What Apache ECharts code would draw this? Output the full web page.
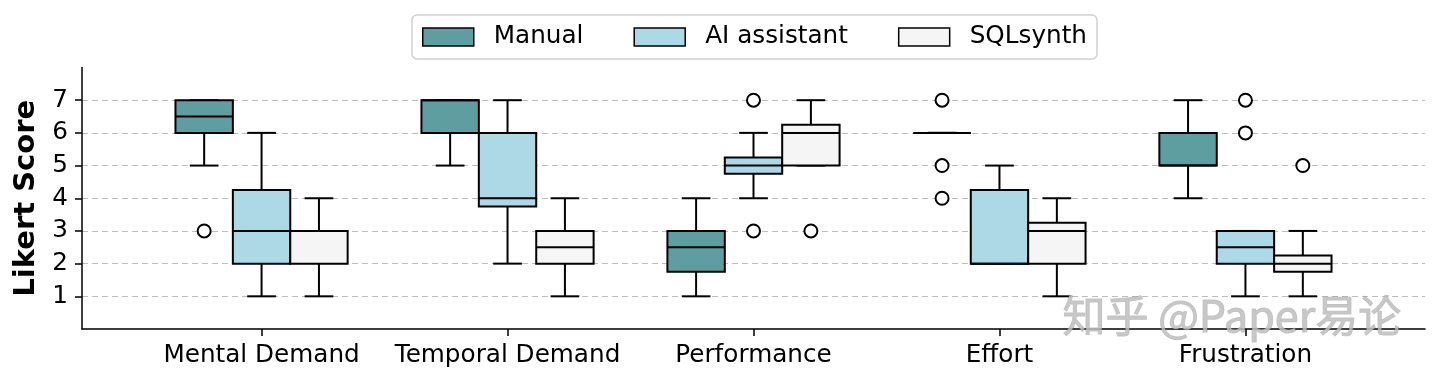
<!DOCTYPE html>
<html>
<head>
<meta charset="utf-8">
<script src="https://cdn.jsdelivr.net/npm/echarts@6/dist/echarts.min.js"></script>
<style>html,body{margin:0;padding:0;background:#fff}#chart{width:1440px;height:383px}</style>
</head>
<body>
<div id="chart"></div>
<script>
// ---- data ----
const categories = ['Mental Demand', 'Temporal Demand', 'Performance', 'Effort', 'Frustration'];
const seriesNames = ['Manual', 'AI assistant', 'SQLsynth'];
const yTicks = [1, 2, 3, 4, 5, 6, 7];
// [min, Q1, median, Q3, max] per category
const manualStats = [[5, 6, 6.5, 7, 7], [5, 6, 7, 7, 7], [1, 1.75, 2.5, 3, 4], [6, 6, 6, 6, 6], [4, 5, 5, 6, 7]];
const manualOutliers = [[3], [], [], [7, 5, 4], []];
const aiStats = [[1, 2, 3, 4.25, 6], [2, 3.75, 4, 6, 7], [4, 4.75, 5, 5.25, 6], [2, 2, 2, 4.25, 5], [1, 2, 2.5, 3, 3]];
const aiOutliers = [[], [], [7, 3], [], [7, 6]];
const sqlStats = [[1, 2, 3, 3, 4], [1, 2, 2.5, 3, 4], [5, 5, 6, 6.25, 7], [1, 2, 3, 3.25, 4], [1, 1.75, 2, 2.25, 3]];
const sqlOutliers = [[], [], [3], [], [5]];

const colors = ['#5F9EA0', '#ADD8E6', '#F5F5F5'];
const FONT = 'DejaVu Sans';
const BOXW = 0.7 / 3;

function makeRender(k, outliers) {
  return function (params, api) {
    const cat = api.value(0);
    const mn = api.value(1), q1 = api.value(2), med = api.value(3), q3 = api.value(4), mx = api.value(5);
    const x = cat + (k - 1) * BOXW;
    const cx = api.coord([x, 0])[0];
    const hw = api.size([BOXW, 0])[0] / 2;
    const cw = hw / 2;
    const Y = v => api.coord([x, v])[1];
    const ls = { stroke: '#000', lineWidth: 2 };
    const ch = [];
    ch.push({ type: 'line', shape: { x1: cx, y1: Y(q3), x2: cx, y2: Y(mx) }, style: ls });
    ch.push({ type: 'line', shape: { x1: cx - cw, y1: Y(mx), x2: cx + cw, y2: Y(mx) }, style: ls });
    ch.push({ type: 'line', shape: { x1: cx, y1: Y(q1), x2: cx, y2: Y(mn) }, style: ls });
    ch.push({ type: 'line', shape: { x1: cx - cw, y1: Y(mn), x2: cx + cw, y2: Y(mn) }, style: ls });
    ch.push({ type: 'rect', shape: { x: cx - hw, y: Y(q3), width: 2 * hw, height: Y(q1) - Y(q3) },
      style: { fill: colors[k], stroke: '#000', lineWidth: 2 } });
    ch.push({ type: 'line', shape: { x1: cx - hw, y1: Y(med), x2: cx + hw, y2: Y(med) }, style: ls });
    (outliers[params.dataIndex] || []).forEach(v => {
      ch.push({ type: 'circle', shape: { cx: cx, cy: Y(v), r: 6.5 }, style: { fill: '#fff', stroke: '#000', lineWidth: 2 } });
    });
    return { type: 'group', children: ch };
  };
}

const allStats = [manualStats, aiStats, sqlStats];
const allOut = [manualOutliers, aiOutliers, sqlOutliers];
const series = seriesNames.map((name, k) => ({
  name: name,
  type: 'custom',
  renderItem: makeRender(k, allOut[k]),
  itemStyle: { color: colors[k], borderColor: '#000', borderWidth: 1.5 },
  encode: { x: 0, y: [1, 2, 3, 4, 5] },
  data: allStats[k].map((s, i) => [i].concat(s)),
  clip: false
}));

const chart = echarts.init(document.getElementById('chart'), null, { renderer: 'canvas' });
chart.setOption({
  animation: false,
  backgroundColor: '#fff',
  grid: { left: 82, right: 15, top: 67.5, bottom: 54 },
  legend: {
    top: 15, left: 412,
    data: seriesNames.map((n, k) => ({ name: n, icon: 'rect', itemStyle: { color: colors[k], borderColor: '#000', borderWidth: 1.5 } })),
    itemWidth: 51, itemHeight: 18, itemGap: 50,
    textStyle: { fontFamily: FONT, fontSize: 24.7, color: '#000', padding: [0, 0, 0, 15], lineHeight: 28 },
    borderColor: '#d0d0d0', borderWidth: 1.5, borderRadius: 5,
    padding: [8, 10, 8, 10]
  },
  xAxis: {
    type: 'value', min: -0.73, max: 4.73,
    splitLine: { show: false },
    axisLine: { onZero: false, lineStyle: { color: '#000', width: 1.5 } },
    axisTick: { customValues: [0, 1, 2, 3, 4], length: 7, lineStyle: { color: '#000', width: 1.5 } },
    axisLabel: { customValues: [0, 1, 2, 3, 4], formatter: v => categories[Math.round(v)], fontFamily: FONT, fontSize: 24.7, color: '#000', margin: 14 }
  },
  yAxis: {
    type: 'value', min: 0, max: 8, interval: 1,
    name: 'Likert Score', nameLocation: 'middle', nameGap: 40,
    nameTextStyle: { fontFamily: FONT, fontSize: 29, fontWeight: 'bold', color: '#000' },
    axisLine: { show: true, onZero: false, lineStyle: { color: '#000', width: 1.5 } },
    axisTick: { show: true, customValues: yTicks, length: 7, lineStyle: { color: '#000', width: 1.5 } },
    axisLabel: { customValues: yTicks, fontFamily: FONT, fontSize: 24.7, color: '#000', margin: 14 },
    splitLine: { show: true, lineStyle: { color: '#bdbdbd', width: 1.2, type: [6, 4] } }
  },
  graphic: [{
    type: 'text', left: 1062, top: 294, silent: true, z: 100,
    style: { text: '知乎 @Paper易论', font: '43px "Noto Sans CJK SC"', fill: 'rgba(190,190,190,0.85)',
      stroke: 'rgba(110,110,110,0.4)', lineWidth: 1 }
  }],
  series: series
});
</script>
</body>
</html>
